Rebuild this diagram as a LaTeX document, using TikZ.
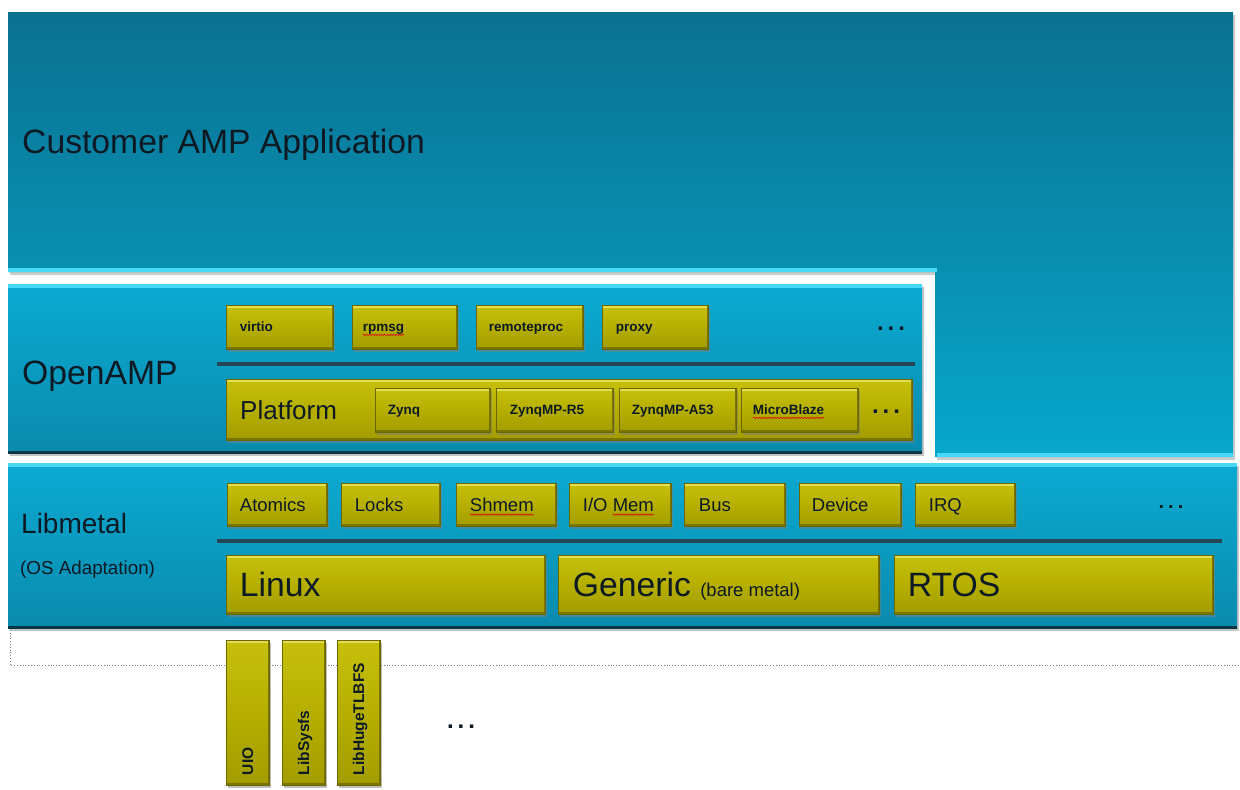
\documentclass[tikz,border=0pt]{standalone}
\usepackage{fontspec}
\setmainfont{Liberation Sans}
\usetikzlibrary{fit,shadows,decorations.pathmorphing}
\definecolor{custTop}{HTML}{0A7190}
\definecolor{custBot}{HTML}{07A7CD}
\definecolor{layTop}{HTML}{0BAAD2}
\definecolor{layBot}{HTML}{0A8BAE}
\definecolor{rim}{HTML}{48D8F6}
\definecolor{sepc}{HTML}{234556}
\definecolor{oTop}{HTML}{C6C00C}
\definecolor{oMid}{HTML}{B6AF00}
\definecolor{oBot}{HTML}{A29C00}
\definecolor{oHi}{HTML}{E2DE50}
\definecolor{oLo}{HTML}{7A7500}
\definecolor{oEdge}{HTML}{6A6600}
\definecolor{txt}{HTML}{0D1A24}
\tikzset{
  layer/.style={inner sep=0pt, top color=layTop, bottom color=layBot,
    drop shadow={opacity=0.45, shadow xshift=2pt, shadow yshift=-3pt},
    path picture={\draw[rim, line width=8pt] (path picture bounding box.north west) -- (path picture bounding box.north east);
      \draw[black!60!layBot, line width=4pt] (path picture bounding box.south west) -- (path picture bounding box.south east);}},
  obox/.style={inner sep=0pt, top color=oTop, bottom color=oBot, middle color=oMid,
    draw=oEdge, line width=0.5pt,
    drop shadow={opacity=0.5, shadow xshift=1.5pt, shadow yshift=-2.5pt},
    path picture={\draw[oHi, line width=6pt] (path picture bounding box.north west) -- (path picture bounding box.north east);
      \draw[oLo, line width=4pt] (path picture bounding box.south west) -- (path picture bounding box.south east);
      \draw[oLo, line width=3pt] (path picture bounding box.south east) -- (path picture bounding box.north east);}},
  bigtxt/.style={font=\fontsize{33.7}{38}\selectfont, text=txt, inner sep=0pt},
  midtxt/.style={font=\fontsize{18.5}{21}\selectfont, text=txt, inner sep=0pt},
  smalltxt/.style={font=\bfseries\fontsize{13.5}{15}\selectfont, text=txt, inner sep=0pt},
  vtxt/.style={font=\bfseries\fontsize{15.5}{17}\selectfont, text=txt, inner sep=0pt, rotate=90, anchor=base west},
  dots/.style={font=\bfseries\fontsize{24}{24}\selectfont, text=txt, inner sep=0pt},
  sepline/.style={draw=sepc, line width=4pt},
  squiggle/.style={draw=red!85!black, line width=0.6pt, decorate, decoration={snake, amplitude=0.7pt, segment length=3pt}},
}
\begin{document}
\begin{tikzpicture}[x=1pt,y=-1pt]
\useasboundingbox[fill=white] (0,0) rectangle (1240,790);
% dotted frame
\draw[gray, dotted, line width=0.8pt] (10,630) -- (10,665) -- (1240,665);
% customer L-shape
\path[top color=custTop, bottom color=custBot, drop shadow={opacity=0.4, shadow xshift=2pt, shadow yshift=-3pt}]
  (8,12) -- (1233,12) -- (1233,457) -- (935,457) -- (935,272) -- (8,272) -- cycle;
\draw[rim, line width=4pt] (8,270) -- (937,270);
\draw[rim, line width=4pt] (937,455) -- (1233,455);
\node[bigtxt, anchor=base west] (cust) at (22,153) {Customer AMP Application};
% OpenAMP layer
\node[layer, fit={(8,284)(922,453)}] (openamp) {};
\node[bigtxt, anchor=base west] (openamp-t) at (22,384) {OpenAMP};
\node[obox, fit={(226,305)(333,349)}] (virtio) {};
\node[smalltxt, anchor=base west] (virtio-t) at ([xshift=14pt,yshift=-4.9pt]virtio.west) {virtio};
\node[obox, fit={(352,305)(457,349)}] (rpmsg) {};
\node[smalltxt, anchor=base west] (rpmsg-t) at ([xshift=11pt,yshift=-4.9pt]rpmsg.west) {rpmsg};
\node[obox, fit={(476,305)(583,349)}] (remoteproc) {};
\node[smalltxt, anchor=base west] (remoteproc-t) at ([xshift=13pt,yshift=-4.9pt]remoteproc.west) {remoteproc};
\node[obox, fit={(602,305)(708,349)}] (proxy) {};
\node[smalltxt, anchor=base west] (proxy-t) at ([xshift=14pt,yshift=-4.9pt]proxy.west) {proxy};
\node[dots] (odots) at (891,329) {.\hspace{4pt}.\hspace{4pt}.};
\coordinate (osepL) at (217,364);
\coordinate (osepR) at (915,364);
\draw[sepline] (osepL) -- (osepR);
\node[obox, fit={(226,379)(912,440)}] (platform) {};
\node[font=\fontsize{26}{30}\selectfont, text=txt, inner sep=0pt, anchor=base west] (platform-t) at (240,419) {Platform};
\node[obox, fit={(375,388)(490,432)}] (zynq) {};
\node[smalltxt, anchor=base west] (zynq-t) at ([xshift=13pt,yshift=-4.9pt]zynq.west) {Zynq};
\node[obox, fit={(496,388)(613,432)}] (r5) {};
\node[smalltxt, anchor=base west] (r5-t) at ([xshift=14pt,yshift=-4.9pt]r5.west) {ZynqMP-R5};
\node[obox, fit={(619,388)(736,432)}] (a53) {};
\node[smalltxt, anchor=base west] (a53-t) at ([xshift=13pt,yshift=-4.9pt]a53.west) {ZynqMP-A53};
\node[obox, fit={(741,388)(858,432)}] (mb) {};
\node[smalltxt, anchor=base west] (mb-t) at ([xshift=12pt,yshift=-4.9pt]mb.west) {MicroBlaze};
\node[dots] (pdots) at (886,412) {.\hspace{4pt}.\hspace{4pt}.};
% Libmetal layer
\node[layer, fit={(8,463)(1237,628)}] (libmetal) {};
\node[font=\fontsize{28}{32}\selectfont, text=txt, inner sep=0pt, anchor=base west] (libmetal-t) at (21,533) {Libmetal};
\node[font=\fontsize{18.8}{22}\selectfont, text=txt, inner sep=0pt, anchor=base west] (osad-t) at (20,574) {(OS Adaptation)};
\node[obox, fit={(227,483)(327,526)}] (atomics) {};
\node[midtxt, anchor=base west] (atomics-t) at ([xshift=13pt,yshift=-6.6pt]atomics.west) {Atomics};
\node[obox, fit={(341,483)(440,526)}] (locks) {};
\node[midtxt, anchor=base west] (locks-t) at ([xshift=14pt,yshift=-6.6pt]locks.west) {Locks};
\node[obox, fit={(456,483)(556,526)}] (shmem) {};
\node[midtxt, anchor=base west] (shmem-t) at ([xshift=14pt,yshift=-6.6pt]shmem.west) {Shmem};
\node[obox, fit={(569,483)(671,526)}] (iomem) {};
\node[midtxt, anchor=base west] (iomem-t) at ([xshift=14pt,yshift=-6.6pt]iomem.west) {I/O Mem};
\node[obox, fit={(684,483)(785,526)}] (bus) {};
\node[midtxt, anchor=base west] (bus-t) at ([xshift=15pt,yshift=-6.6pt]bus.west) {Bus};
\node[obox, fit={(799,483)(901,526)}] (device) {};
\node[midtxt, anchor=base west] (device-t) at ([xshift=13pt,yshift=-6.6pt]device.west) {Device};
\node[obox, fit={(915,483)(1015,526)}] (irq) {};
\node[midtxt, anchor=base west] (irq-t) at ([xshift=14pt,yshift=-6.6pt]irq.west) {IRQ};
\node[dots, font=\fontsize{20}{20}\selectfont\bfseries] (ldots) at (1171,507) {.\hspace{4pt}.\hspace{4pt}.};
\coordinate (lsepL) at (217,541);
\coordinate (lsepR) at (1222,541);
\draw[sepline] (lsepL) -- (lsepR);
\node[obox, fit={(226,555)(545,614)}] (linux) {};
\node[bigtxt, anchor=base west] (linux-t) at ([xshift=14pt,yshift=-11.8pt]linux.west) {Linux};
\node[obox, fit={(558,555)(879,614)}] (generic) {};
\node[bigtxt, anchor=base west] (generic-t) at ([xshift=15pt,yshift=-11.8pt]generic.west) {Generic {\fontsize{18.5}{21}\selectfont (bare metal)}};
\node[obox, fit={(894,555)(1213,614)}] (rtos) {};
\node[bigtxt, anchor=base west] (rtos-t) at ([xshift=14pt,yshift=-11.8pt]rtos.west) {RTOS};
% Linux back-ends
\node[obox, fit={(226,640)(269,785)}] (uio) {};
\node[vtxt] (uio-t) at ([xshift=5.5pt,yshift=10pt]uio.south) {UIO};
\node[obox, fit={(282,640)(325,785)}] (sysfs) {};
\node[vtxt] (sysfs-t) at ([xshift=5.5pt,yshift=10pt]sysfs.south) {LibSysfs};
\node[obox, fit={(337,640)(380,785)}] (huge) {};
\node[vtxt] (huge-t) at ([xshift=5.5pt,yshift=10pt]huge.south) {LibHugeTLBFS};
\node[dots] (bdots) at (461,727) {.\hspace{4pt}.\hspace{4pt}.};
% spell-check squiggles
\draw[squiggle] ([yshift=-3pt]rpmsg-t.base west) -- ([yshift=-3pt]rpmsg-t.base east);
\draw[squiggle] ([yshift=-3pt]mb-t.base west) -- ([yshift=-3pt]mb-t.base east);
\draw[squiggle] ([yshift=-3.5pt]shmem-t.base west) -- ([yshift=-3.5pt]shmem-t.base east);
\draw[squiggle] ([xshift=30pt,yshift=-3.5pt]iomem-t.base west) -- ([yshift=-3.5pt]iomem-t.base east);
\end{tikzpicture}
\end{document}
